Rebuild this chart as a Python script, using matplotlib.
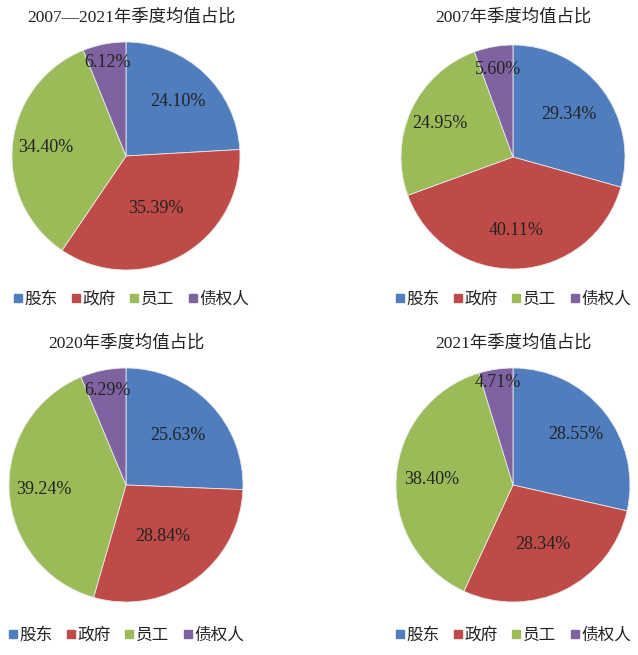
import matplotlib.pyplot as plt
import numpy as np
from matplotlib.lines import Line2D

plt.rcParams['font.family'] = ['Liberation Serif', 'Noto Sans CJK SC']

categories = ['股东', '政府', '员工', '债权人']
colors = ['#4F7DBD', '#BE4B48', '#9BBB59', '#7F63A1']

titles = ['2007—2021年季度均值占比', '2007年季度均值占比',
          '2020年季度均值占比', '2021年季度均值占比']
share_all = [24.10, 35.39, 34.40, 6.12]
share_2007 = [29.34, 40.11, 24.95, 5.60]
share_2020 = [25.63, 28.84, 39.24, 6.29]
share_2021 = [28.55, 28.34, 38.40, 4.71]
series = [share_all, share_2007, share_2020, share_2021]

# label distance (fraction of radius) per slice
label_dist = [[0.66, 0.53, 0.71, 0.84],
              [0.63, 0.66, 0.72, 0.79],
              [0.61, 0.54, 0.70, 0.82],
              [0.69, 0.57, 0.70, 0.89]]

W, H = 638, 655
fig = plt.figure(figsize=(W / 100, H / 100), dpi=100)

# pixel layout: pie centre x, centre y, radius, title y, legend y
layout = [(126, 156, 114, 17, 300),
          (513, 157, 112, 17, 300),
          (126, 485, 117, 343, 636),
          (513, 485, 117, 343, 636)]

handles = [Line2D([], [], marker='s', linestyle='none', color=c,
                  markersize=6) for c in colors]

for i, (cx, cy, r, ty, ly) in enumerate(layout):
    ax = fig.add_axes([(cx - r) / W, 1 - (cy + r) / H, 2 * r / W, 2 * r / H])
    wedges, _ = ax.pie(series[i], colors=colors, startangle=90,
                       counterclock=False, radius=1,
                       wedgeprops=dict(edgecolor='#e8e8e8', linewidth=0.6))
    for w, v, d in zip(wedges, series[i], label_dist[i]):
        ang = np.deg2rad((w.theta1 + w.theta2) / 2)
        ax.text(d * np.cos(ang), d * np.sin(ang), f'{v:.2f}%',
                ha='center', va='center', fontsize=13, color='#222222')
    ax.set_xlim(-1, 1)
    ax.set_ylim(-1, 1)
    ax.set_aspect('equal')
    ax.axis('off')
    title_x = 132 if i == 0 else cx
    fig.text(title_x / W, 1 - ty / H, titles[i], ha='center', va='center',
             fontsize=12.5, color='#222222')
    fig.legend(handles, categories, loc='center',
               bbox_to_anchor=(cx / W + (0.008 if i == 0 else 0), 1 - ly / H),
               ncol=4, frameon=False, fontsize=12, handlelength=0.6,
               handletextpad=0.1, columnspacing=0.8, labelcolor='#222222')

fig.savefig('out.png', dpi=100)
